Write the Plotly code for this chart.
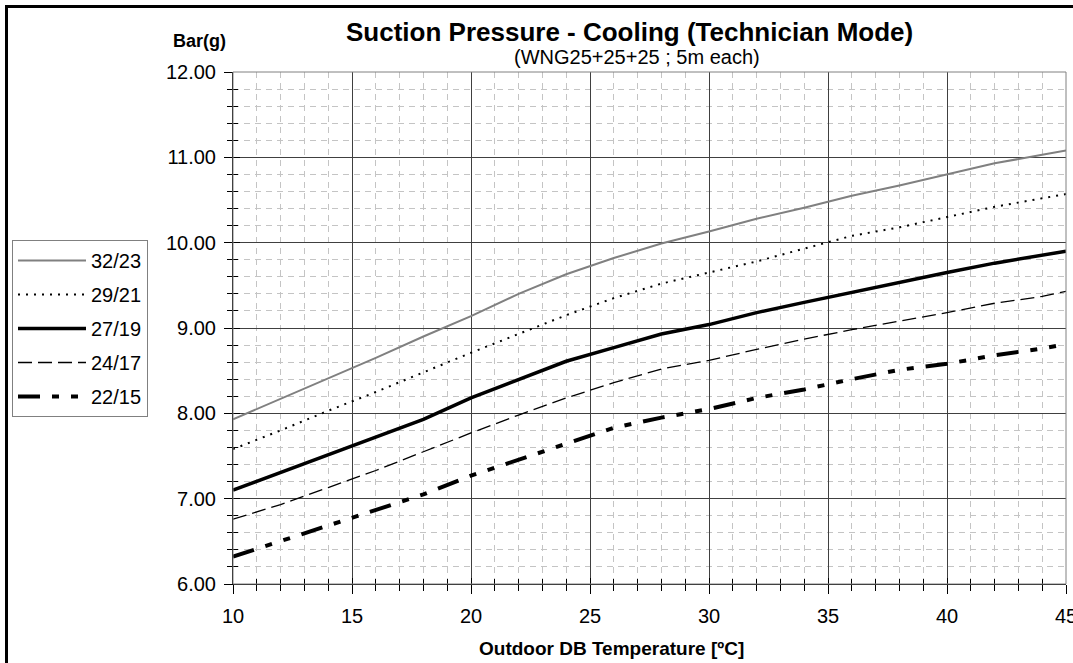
import plotly.graph_objects as go

# Outdoor dry-bulb temperature [ºC]
outdoor_db = [10, 12, 14, 16, 18, 20, 22, 24, 26, 28, 30, 32, 34, 36, 38, 40, 42, 44, 45]

# Suction pressure [bar(g)] per indoor condition (DB/WB)
p_32_23 = [7.93, 8.17, 8.41, 8.65, 8.90, 9.14, 9.40, 9.63, 9.82, 9.99, 10.13, 10.28, 10.41, 10.55, 10.67, 10.80, 10.93, 11.03, 11.08]
p_29_21 = [7.58, 7.80, 8.03, 8.25, 8.48, 8.71, 8.93, 9.15, 9.35, 9.52, 9.65, 9.78, 9.93, 10.08, 10.18, 10.30, 10.42, 10.52, 10.57]
p_27_19 = [7.10, 7.31, 7.51, 7.73, 7.93, 8.18, 8.40, 8.61, 8.77, 8.93, 9.04, 9.18, 9.30, 9.42, 9.54, 9.65, 9.76, 9.85, 9.90]
p_24_17 = [6.76, 6.93, 7.13, 7.33, 7.55, 7.77, 7.98, 8.18, 8.36, 8.52, 8.62, 8.75, 8.87, 8.98, 9.08, 9.18, 9.29, 9.37, 9.43]
p_22_15 = [6.32, 6.50, 6.68, 6.87, 7.05, 7.27, 7.46, 7.64, 7.83, 7.95, 8.05, 8.18, 8.28, 8.40, 8.51, 8.58, 8.68, 8.76, 8.81]

series_names = ["32/23", "29/21", "27/19", "24/17", "22/15"]
series_values = [p_32_23, p_29_21, p_27_19, p_24_17, p_22_15]
series_styles = [
    dict(color="#808080", width=2, dash="solid"),
    dict(color="black", width=2, dash="2px,6px"),
    dict(color="black", width=3.5, dash="solid"),
    dict(color="black", width=1.3, dash="14px,6px"),
    dict(color="black", width=4, dash="22px,12px,7px,12px,7px,12px"),
]

FONT = "Liberation Sans, Arial, sans-serif"
W, H = 1073, 663
ML, MR, MT, MB = 233, 7, 72, 79
PW, PH = W - ML - MR, H - MT - MB
X_RANGE = [10, 45]
Y_RANGE = [6, 12]


def px_x(px):
    return (px - ML) / PW


def px_y(py):
    return (H - MB - py) / PH


fig = go.Figure()
for i, (name, vals, st) in enumerate(zip(series_names, series_values, series_styles)):
    fig.add_trace(go.Scatter(
        x=outdoor_db, y=vals, name=name, mode="lines",
        line=dict(color=st["color"], width=st["width"], dash=st["dash"]),
        legendgroup=f"g{i}",
    ))

# empty traces so the overlaid tick-only axes get drawn
fig.add_trace(go.Scatter(x=[], y=[], xaxis="x2", yaxis="y", showlegend=False, hoverinfo="skip"))
fig.add_trace(go.Scatter(x=[], y=[], xaxis="x", yaxis="y2", showlegend=False, hoverinfo="skip"))

minor_grid = dict(showgrid=True, gridcolor="#c4c4c4", gridwidth=1, griddash="6px,5px")

fig.update_layout(
    width=W, height=H,
    margin=dict(l=ML, r=MR, t=MT, b=MB, pad=0, autoexpand=False),
    paper_bgcolor="white", plot_bgcolor="white",
    font=dict(family=FONT, size=20, color="black"),
    showlegend=True,
    legend=dict(
        x=px_x(12), y=px_y(240), xanchor="left", yanchor="top",
        bgcolor="white", bordercolor="#808080", borderwidth=1,
        font=dict(family=FONT, size=20, color="black"),
        itemwidth=68, tracegroupgap=5,
    ),
    xaxis=dict(
        range=X_RANGE, dtick=5, tick0=10, automargin=False,
        showline=True, linecolor="black", linewidth=1,
        showgrid=True, gridcolor="#404040", gridwidth=1,
        zeroline=False,
        ticks="outside", ticklen=9, tickcolor="black", tickwidth=1,
        ticklabelstandoff=5, ticklabeloverflow="allow",
        tickfont=dict(family=FONT, size=20, color="black"),
        minor=dict(dtick=1, ticks="outside", ticklen=6, tickcolor="black", **minor_grid),
    ),
    yaxis=dict(
        range=Y_RANGE, dtick=1, tick0=6, tickformat=".2f", automargin=False,
        showline=True, linecolor="black", linewidth=1,
        showgrid=True, gridcolor="#404040", gridwidth=1,
        zeroline=False,
        ticks="outside", ticklen=8, tickcolor="black", tickwidth=1,
        ticklabelstandoff=4, ticklabeloverflow="allow",
        tickfont=dict(family=FONT, size=20, color="black"),
        minor=dict(dtick=0.2, ticks="outside", ticklen=5, tickcolor="black", **minor_grid),
    ),
    # overlaid axes carry the inner half of the crossing tick marks
    xaxis2=dict(
        overlaying="x", anchor="y", side="bottom", range=X_RANGE, dtick=5, tick0=10,
        automargin=False,
        showline=False, showgrid=False, zeroline=False, showticklabels=False,
        ticks="inside", ticklen=6, tickcolor="black",
        minor=dict(dtick=1, ticks="inside", ticklen=5, tickcolor="black", showgrid=False),
    ),
    yaxis2=dict(
        overlaying="y", anchor="x", side="left", range=Y_RANGE, dtick=1, tick0=6,
        automargin=False,
        showline=False, showgrid=False, zeroline=False, showticklabels=False,
        ticks="inside", ticklen=7, tickcolor="black",
        minor=dict(dtick=0.2, ticks="inside", ticklen=5, tickcolor="black", showgrid=False),
    ),
)

# gray frame on the plot area's top and right edges, heavy frame round the sheet
fig.add_shape(type="rect", xref="paper", yref="paper", x0=0, x1=1, y0=0, y1=1,
              line=dict(color="#808080", width=1), layer="above")
fig.add_shape(type="rect", xref="paper", yref="paper",
              x0=px_x(6.5), x1=px_x(1100), y0=px_y(700), y1=px_y(6.5),
              line=dict(color="black", width=3), layer="above")

fig.add_annotation(text="<b>Suction Pressure - Cooling (Technician Mode)</b>",
                   xref="paper", yref="paper", x=px_x(629), y=px_y(32),
                   xanchor="center", yanchor="middle", showarrow=False,
                   font=dict(family=FONT, size=26, color="black"))
fig.add_annotation(text="(WNG25+25+25 ; 5m each)",
                   xref="paper", yref="paper", x=px_x(637), y=px_y(57),
                   xanchor="center", yanchor="middle", showarrow=False,
                   font=dict(family=FONT, size=20, color="black"))
fig.add_annotation(text="<b>Bar(g)</b>",
                   xref="paper", yref="paper", x=px_x(199), y=px_y(41),
                   xanchor="center", yanchor="middle", showarrow=False,
                   font=dict(family=FONT, size=18, color="black"))
fig.add_annotation(text="<b>Outdoor DB Temperature [ºC]</b>",
                   xref="paper", yref="paper", x=px_x(611), y=px_y(648),
                   xanchor="center", yanchor="middle", showarrow=False,
                   font=dict(family=FONT, size=19, color="black"))

fig.write_html("out.html")
